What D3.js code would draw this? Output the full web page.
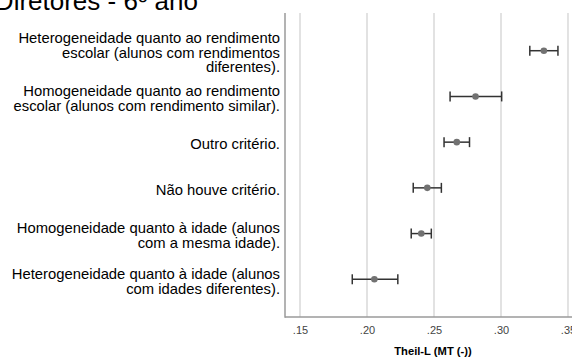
<!DOCTYPE html>
<html>
<head>
<meta charset="utf-8">
<script src="https://cdn.jsdelivr.net/npm/d3@7"></script>
<style>
  html, body { margin: 0; padding: 0; background: #fff; }
  svg { display: block; }
  text { font-family: "Liberation Sans", Arial, sans-serif; }
</style>
</head>
<body>
<svg id="chart" width="572" height="358"></svg>
<script>
// Grouping criteria (one row each, top to bottom), label lines as drawn
const categories = [
  ["Heterogeneidade quanto ao rendimento", "escolar (alunos com rendimentos", "diferentes)."],
  ["Homogeneidade quanto ao rendimento", "escolar (alunos com rendimento similar)."],
  ["Outro critério."],
  ["Não houve critério."],
  ["Homogeneidade quanto à idade (alunos", "com a mesma idade)."],
  ["Heterogeneidade quanto à idade (alunos", "com idades diferentes)."]
];
// Theil-L mean and confidence interval bounds per criterion
const means = [0.332, 0.281, 0.267, 0.245, 0.2405, 0.2055];
const lower = [0.3215, 0.262, 0.2575, 0.2345, 0.233, 0.189];
const upper = [0.3425, 0.3005, 0.2765, 0.2555, 0.248, 0.223];
const tickValues = [0.15, 0.20, 0.25, 0.30, 0.35];
const titleText = "Diretores - 6º ano";
const axisTitle = "Theil-L (MT (-))";

const svg = d3.select("#chart");
const plot = { left: 285, right: 583, top: 13, bottom: 317 };

const x = d3.scaleLinear()
  .domain([0.1388, 0.3612])
  .range([plot.left, plot.right]);

const y = d3.scalePoint()
  .domain(d3.range(categories.length))
  .range([plot.top, plot.bottom])
  .padding(0.825);

// Page title, partly above the visible area
svg.append("text")
  .attr("x", 198)
  .attr("y", 10)
  .attr("text-anchor", "end")
  .attr("font-size", 26)
  .attr("fill", "#000")
  .text(titleText);

// Vertical gridlines
svg.append("g")
  .selectAll("line")
  .data(tickValues)
  .join("line")
  .attr("x1", d => x(d)).attr("x2", d => x(d))
  .attr("y1", plot.top).attr("y2", plot.bottom)
  .attr("stroke", "#d9d9d9")
  .attr("stroke-width", 1.5);

// Bottom axis with tick labels like ".25"
const xAxis = d3.axisBottom(x)
  .tickValues(tickValues)
  .tickSize(0)
  .tickPadding(9)
  .tickFormat(d => d3.format(".2f")(d).replace(/^0/, ""));

const gx = svg.append("g")
  .attr("transform", `translate(0,${plot.bottom})`)
  .call(xAxis);
gx.select(".domain").remove();
gx.selectAll("text")
  .attr("font-size", 11)
  .attr("fill", "#444")
  .style("font-family", '"Liberation Sans", Arial, sans-serif');

// Frame: left and bottom axis lines
svg.append("line")
  .attr("x1", plot.left).attr("x2", plot.left)
  .attr("y1", plot.top).attr("y2", plot.bottom + 0.75)
  .attr("stroke", "#9a9a9a").attr("stroke-width", 1.5);
svg.append("line")
  .attr("x1", plot.left).attr("x2", plot.right)
  .attr("y1", plot.bottom).attr("y2", plot.bottom)
  .attr("stroke", "#9a9a9a").attr("stroke-width", 1.5);

// Axis title
svg.append("text")
  .attr("x", (plot.left + plot.right) / 2 - 1)
  .attr("y", 355)
  .attr("text-anchor", "middle")
  .attr("font-size", 11.2)
  .attr("font-weight", "bold")
  .attr("fill", "#000")
  .text(axisTitle);

// Category labels, right aligned against the axis
const lineH = 14.5;
const labels = svg.append("g");
categories.forEach((lines, i) => {
  const cy = y(i) + 2;
  const t = labels.append("text")
    .attr("text-anchor", "end")
    .attr("font-size", 14.8)
    .attr("fill", "#000");
  lines.forEach((ln, j) => {
    t.append("tspan")
      .attr("x", 280)
      .attr("y", cy + (j - (lines.length - 1) / 2) * lineH + 5)
      .text(ln);
  });
});

// Error bars with caps, and mean markers
const rows = d3.range(categories.length);
const bars = svg.append("g").attr("stroke", "#333").attr("stroke-width", 1.5);
bars.selectAll(".whisker")
  .data(rows)
  .join("line")
  .attr("class", "whisker")
  .attr("x1", i => x(lower[i])).attr("x2", i => x(upper[i]))
  .attr("y1", i => y(i)).attr("y2", i => y(i));
bars.selectAll(".capL")
  .data(rows)
  .join("line")
  .attr("class", "capL")
  .attr("x1", i => x(lower[i])).attr("x2", i => x(lower[i]))
  .attr("y1", i => y(i) - 5).attr("y2", i => y(i) + 5);
bars.selectAll(".capU")
  .data(rows)
  .join("line")
  .attr("class", "capU")
  .attr("x1", i => x(upper[i])).attr("x2", i => x(upper[i]))
  .attr("y1", i => y(i) - 5).attr("y2", i => y(i) + 5);

svg.append("g")
  .selectAll("circle")
  .data(rows)
  .join("circle")
  .attr("cx", i => x(means[i]))
  .attr("cy", i => y(i))
  .attr("r", 3.3)
  .attr("fill", "#727272");
</script>
</body>
</html>
